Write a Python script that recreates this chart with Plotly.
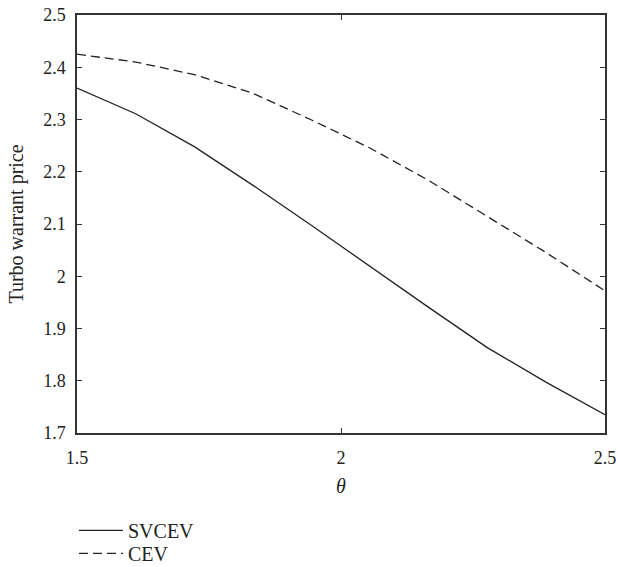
import plotly.graph_objects as go

theta = [1.5, 1.6111, 1.7222, 1.8333, 1.9444, 2.0556, 2.1667, 2.2778, 2.3889, 2.5]
svcev = [2.360, 2.311, 2.248, 2.174, 2.097, 2.018, 1.940, 1.863, 1.797, 1.735]
cev = [2.425, 2.410, 2.386, 2.350, 2.299, 2.245, 2.183, 2.114, 2.045, 1.972]

y_ticks = [1.7, 1.8, 1.9, 2.0, 2.1, 2.2, 2.3, 2.4, 2.5]
y_labels = ["1.7", "1.8", "1.9", "2", "2.1", "2.2", "2.3", "2.4", "2.5"]
x_ticks = [1.5, 2.0, 2.5]
x_labels = ["1.5", "2", "2.5"]

FONT = "Liberation Serif"
AX = "#333333"

fig = go.Figure()
fig.add_trace(go.Scatter(x=theta, y=svcev, mode="lines", name="SVCEV", legend="legend",
                         line=dict(color="#222222", width=1.3)))
fig.add_trace(go.Scatter(x=theta, y=cev, mode="lines", name="CEV", legend="legend2",
                         line=dict(color="#222222", width=1.3, dash="9px,5px")))

leg_common = dict(orientation="v", xanchor="left", yanchor="middle",
                  font=dict(family=FONT, size=20, color="#222222"),
                  bgcolor="rgba(0,0,0,0)", itemwidth=44)

fig.update_layout(
    width=618, height=567,
    margin=dict(l=77, r=13, t=15, b=133.5, autoexpand=False),
    paper_bgcolor="white", plot_bgcolor="white",
    font=dict(family=FONT, size=18, color="#222222"),
    showlegend=True,
    legend=dict(x=-0.0057, y=-0.233, **leg_common),
    legend2=dict(x=-0.0057, y=-0.288, **leg_common),
)
fig.update_xaxes(range=[1.5, 2.5], tickvals=x_ticks, ticktext=x_labels,
                 ticks="inside", ticklen=5, tickwidth=1.2, tickcolor=AX,
                 showline=True, linecolor=AX, linewidth=1.5, mirror="ticks",
                 showgrid=False, zeroline=False, ticklabelstandoff=8,
                 tickfont=dict(family=FONT, size=18),
                 title=dict(text="<i>θ</i>", font=dict(family=FONT, size=20), standoff=12))
fig.update_yaxes(range=[1.7, 2.5], tickvals=y_ticks, ticktext=y_labels,
                 ticks="inside", ticklen=5, tickwidth=1.2, tickcolor=AX,
                 showline=True, linecolor=AX, linewidth=1.5, mirror="ticks",
                 showgrid=False, zeroline=False, ticklabelstandoff=6,
                 tickfont=dict(family=FONT, size=18),
                 title=dict(text="Turbo warrant price", font=dict(family=FONT, size=20), standoff=14))

fig.write_html("out.html", config={"displayModeBar": False},
               post_script="document.body.style.margin='0';")
